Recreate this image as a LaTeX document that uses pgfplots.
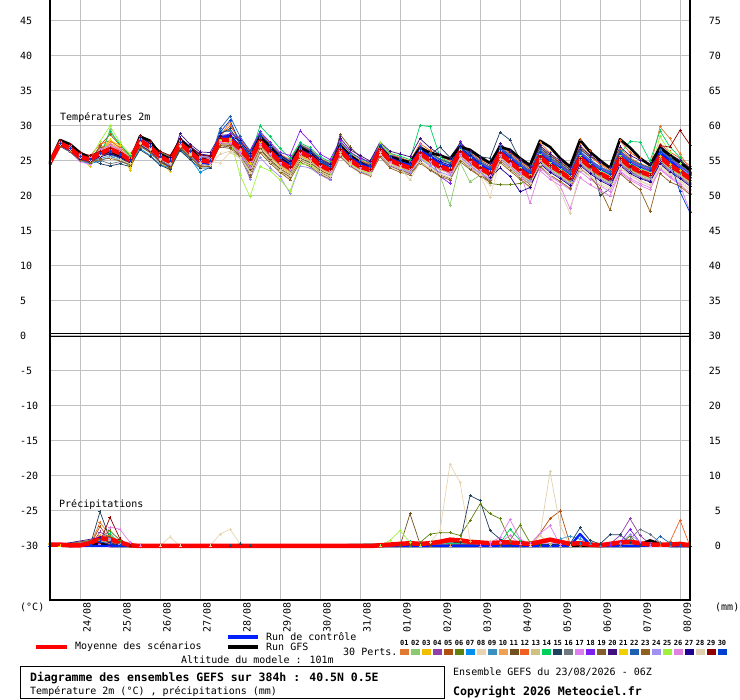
\documentclass[border=0pt]{standalone}
\usepackage{pgfplots}
\pgfplotsset{compat=1.18}
\usepackage{pgfplotstable}
\usepackage{fontspec}
\setmainfont{DejaVu Sans Mono}
\setmonofont{DejaVu Sans Mono}
\definecolor{c01}{HTML}{E07A2E}
\definecolor{c02}{HTML}{8CC870}
\definecolor{c03}{HTML}{F0C000}
\definecolor{c04}{HTML}{9040A8}
\definecolor{c05}{HTML}{B05010}
\definecolor{c06}{HTML}{608010}
\definecolor{c07}{HTML}{0090F0}
\definecolor{c08}{HTML}{E8D4B0}
\definecolor{c09}{HTML}{3C90C0}
\definecolor{c10}{HTML}{F0A050}
\definecolor{c11}{HTML}{705020}
\definecolor{c12}{HTML}{F06020}
\definecolor{c13}{HTML}{D0C080}
\definecolor{c14}{HTML}{00D060}
\definecolor{c15}{HTML}{204060}
\definecolor{c16}{HTML}{707880}
\definecolor{c17}{HTML}{E080F0}
\definecolor{c18}{HTML}{8020F0}
\definecolor{c19}{HTML}{806030}
\definecolor{c20}{HTML}{401080}
\definecolor{c21}{HTML}{F0D000}
\definecolor{c22}{HTML}{2060B0}
\definecolor{c23}{HTML}{906020}
\definecolor{c24}{HTML}{A090F0}
\definecolor{c25}{HTML}{A0F040}
\definecolor{c26}{HTML}{E080E0}
\definecolor{c27}{HTML}{200090}
\definecolor{c28}{HTML}{E0D0B0}
\definecolor{c29}{HTML}{900000}
\definecolor{c30}{HTML}{0040D0}
\definecolor{gridc}{HTML}{C0C0C0}
\definecolor{ctrlblue}{HTML}{0020FF}
\definecolor{meanred}{HTML}{FF0000}

\pgfplotstableread{
i m g c p01 p02 p03 p04 p05 p06 p07 p08 p09 p10 p11 p12 p13 p14 p15 p16 p17 p18 p19 p20 p21 p22 p23 p24 p25 p26 p27 p28 p29 p30
0 24.8 24.9 24.8 24.6 24.9 24.7 25.0 24.8 24.5 24.9 25.1 24.7 24.6 24.9 24.8 25.0 24.6 24.7 24.9 24.8 24.5 25.0 24.7 24.8 24.6 24.9 25.1 24.7 24.8 24.6 24.9 24.8 24.7
1 27.5 28.0 27.3 27.6 27.2 27.4 27.8 27.5 27.3 27.1 27.7 27.4 27.6 27.2 27.9 27.3 27.5 27.8 27.4 27.2 27.6 27.5 27.3 27.7 27.4 27.1 27.6 27.5 27.8 27.3 27.4 27.9 27.5
2 26.8 27.4 26.6 26.9 26.5 26.8 27.2 26.6 26.9 26.3 27.0 26.7 26.8 26.4 27.3 26.6 26.9 27.1 26.7 26.4 26.9 26.8 26.5 27.0 26.7 26.3 27.0 26.8 27.2 26.6 26.7 27.4 26.8
3 25.6 26.2 25.4 25.7 25.2 25.6 26.0 25.3 25.7 25.0 25.9 25.5 25.6 25.2 26.1 25.4 25.7 25.9 25.5 24.9 25.8 25.6 25.3 25.8 25.4 25.1 25.9 25.6 26.0 25.3 25.5 26.2 25.6
4 25.2 25.4 25.0 25.3 24.8 24.2 25.6 24.9 25.4 24.6 25.5 25.1 25.0 24.7 25.7 24.9 25.3 25.4 25.2 24.5 25.6 25.1 24.8 25.3 24.9 24.8 25.5 25.2 25.6 25.0 25.1 25.8 25.2
5 26.1 26.0 26.0 26.8 25.5 26.4 26.0 27.2 25.8 25.0 26.5 25.3 26.9 25.7 27.4 26.2 25.6 24.6 25.1 26.7 25.4 27.0 26.3 25.9 26.2 25.2 26.0 27.8 26.5 25.6 25.8 26.4 26.1
6 26.7 26.4 26.6 27.4 29.5 28.0 26.5 28.8 26.0 25.6 26.9 25.8 27.6 26.2 27.9 26.8 29.2 24.3 24.6 27.2 26.4 27.0 26.1 28.0 25.9 25.4 26.6 30.0 27.3 26.0 25.5 26.8 26.4
7 26.1 25.8 26.0 26.5 27.0 26.8 25.8 27.3 25.5 25.2 26.0 25.0 26.7 25.6 26.9 26.2 27.4 24.6 24.9 26.4 25.8 26.3 25.5 27.2 25.4 25.0 26.0 27.6 26.6 25.6 25.2 26.2 25.9
8 25.1 25.0 25.0 25.3 25.6 23.7 24.8 25.8 24.6 24.3 25.0 24.4 25.5 24.7 25.9 25.2 25.7 24.2 24.5 25.4 24.9 25.1 24.6 24.0 24.8 24.5 25.0 26.0 25.4 24.8 24.6 25.3 25.0
9 27.9 28.5 27.8 28.0 27.6 27.3 28.4 27.8 28.6 26.8 27.9 27.2 28.3 27.5 28.0 27.7 28.2 26.6 27.4 28.1 27.8 28.5 27.3 27.7 28.0 27.1 28.3 27.9 27.6 28.4 27.5 28.7 28.0
10 27.0 27.9 26.9 27.1 26.7 26.4 27.5 26.9 27.6 25.8 27.0 26.3 27.4 26.6 27.1 26.8 27.3 25.7 26.5 27.2 26.9 27.7 26.4 26.8 27.1 26.2 27.4 27.0 26.7 27.5 26.6 27.8 27.1
11 25.6 26.0 25.5 25.8 25.3 25.0 26.1 25.5 26.2 24.5 25.6 25.0 26.0 25.2 25.7 25.4 25.9 24.4 25.1 25.8 25.5 26.3 24.9 25.4 25.7 24.8 26.0 25.6 25.3 26.1 25.2 26.4 25.7
12 24.9 25.2 24.8 25.0 24.7 23.5 25.4 24.8 25.6 24.0 25.0 24.3 25.3 23.9 25.1 24.6 25.2 23.8 24.4 25.0 24.9 25.7 24.2 24.6 25.1 24.1 25.4 24.9 24.5 25.5 24.6 25.8 25.0
13 27.5 28.0 27.4 27.6 27.3 27.0 27.9 27.4 28.0 26.6 27.5 27.2 27.8 26.8 27.6 27.1 27.7 26.5 27.0 27.8 28.2 27.9 28.9 27.3 27.6 26.9 28.0 27.5 27.2 28.3 27.1 28.1 27.6
14 26.3 26.8 26.1 26.4 26.1 25.8 26.8 26.2 26.9 25.4 26.3 25.9 26.6 25.5 26.4 25.8 26.5 25.2 25.7 26.7 27.0 26.8 27.4 26.0 26.5 25.6 26.9 26.3 26.0 27.1 25.9 27.0 26.4
15 25.1 25.4 24.8 25.2 24.9 24.7 25.6 25.0 25.8 23.4 25.1 24.4 25.4 24.3 25.2 24.6 25.3 24.0 24.5 25.5 25.9 25.7 26.3 24.8 25.3 24.2 25.7 25.1 24.8 26.0 24.6 25.9 25.2
16 24.9 25.0 24.6 25.0 24.6 24.5 25.4 24.8 25.8 24.1 24.9 24.5 25.3 24.2 25.1 24.6 25.2 24.0 24.4 25.3 25.6 25.5 26.2 24.7 25.1 24.3 25.5 24.9 24.6 25.8 24.4 25.7 25.0
17 28.0 28.2 28.2 28.5 28.8 27.6 28.2 29.0 28.0 28.3 24.7 29.3 27.8 27.2 28.6 27.4 28.1 28.9 27.5 27.9 28.4 27.0 28.7 27.7 29.6 27.3 28.2 28.0 27.6 28.5 26.0 28.3 29.1
18 28.0 28.4 28.6 30.6 28.0 27.5 28.4 29.4 27.6 28.8 26.2 29.2 27.9 27.0 30.0 27.3 28.3 29.6 27.4 27.8 28.9 26.8 28.7 27.7 31.4 27.2 28.1 28.2 27.5 28.6 26.4 28.5 30.8
19 26.8 26.9 27.0 27.3 25.8 26.2 27.4 27.8 26.6 27.0 25.4 27.6 26.5 25.9 28.1 26.0 27.2 27.5 26.3 26.7 28.3 25.6 27.1 26.4 28.5 25.7 26.2 23.0 26.0 27.9 25.5 27.0 27.6
20 25.1 25.3 25.0 25.6 23.6 24.3 25.9 26.2 24.8 25.4 23.3 26.0 24.5 23.8 26.3 24.0 25.5 25.7 24.2 24.9 26.5 23.0 25.3 24.6 26.4 22.6 22.4 19.9 24.1 26.1 23.4 25.2 25.8
21 27.8 28.4 27.9 28.2 26.6 27.0 28.4 28.8 27.5 28.3 26.4 28.6 27.2 26.8 29.0 27.1 30.0 28.5 27.3 27.8 29.2 26.7 28.1 27.6 28.9 26.2 25.5 24.2 27.4 28.7 26.5 27.9 28.6
22 26.3 27.0 26.6 26.7 25.1 25.6 27.0 27.3 26.0 26.8 24.9 27.1 25.7 25.2 27.5 25.5 28.5 27.0 25.8 26.3 27.7 25.0 26.6 26.1 27.4 24.7 24.0 23.6 25.9 27.2 24.8 26.4 27.0
23 24.9 25.4 25.2 25.3 23.8 24.3 25.6 25.9 24.7 25.4 23.5 25.7 24.4 23.9 26.0 24.1 26.8 25.6 24.5 24.9 26.2 23.6 25.2 24.8 25.9 23.4 22.8 22.3 24.6 25.8 23.7 25.0 25.5
24 24.0 24.4 24.3 24.4 22.8 23.3 24.8 25.0 23.7 24.6 22.5 24.9 23.5 23.0 25.2 23.2 25.4 24.7 23.6 24.0 25.8 22.7 24.3 23.9 25.0 22.3 20.4 20.7 23.8 24.9 22.9 24.1 24.6
25 26.3 27.0 26.5 26.6 25.3 25.8 26.9 27.2 26.0 26.8 24.9 27.0 25.7 25.4 27.4 25.6 27.6 26.9 25.9 26.2 29.3 25.1 26.5 26.2 27.3 24.8 24.3 24.6 26.1 27.1 25.2 26.4 26.9
26 25.6 26.1 25.9 25.9 24.7 25.1 26.2 26.5 25.4 26.0 24.3 26.3 25.0 24.8 26.7 25.0 26.9 26.2 25.3 25.5 27.8 24.5 25.8 25.5 26.6 24.2 24.0 24.4 25.4 26.4 24.6 25.7 26.2
27 24.4 24.6 24.6 24.6 23.6 24.0 25.0 25.3 24.3 24.8 23.2 25.1 23.9 23.7 25.4 23.9 25.6 25.0 24.2 24.3 26.0 23.4 24.7 24.4 25.3 23.1 23.0 23.5 24.2 25.2 23.5 24.5 24.9
28 23.7 23.8 23.8 23.9 23.0 23.3 24.3 24.6 23.6 24.1 22.5 24.4 23.2 23.0 24.7 23.2 24.9 24.3 23.5 23.6 25.2 22.7 24.0 23.7 24.6 22.4 22.3 22.9 23.5 24.5 22.8 23.8 24.2
29 26.6 27.2 26.9 26.8 26.0 26.3 27.3 27.5 26.5 27.0 25.6 27.2 26.2 28.8 27.6 26.2 27.8 27.2 26.4 26.6 27.9 25.8 28.3 26.6 27.4 25.7 25.8 26.0 26.5 27.3 25.9 26.7 27.1
30 25.1 25.8 25.5 25.3 24.6 24.9 25.7 25.9 25.0 25.5 24.2 25.6 24.8 27.0 26.0 24.8 26.2 25.6 24.9 25.1 26.3 24.4 26.6 25.1 25.8 24.3 24.4 24.6 25.0 25.7 24.5 25.2 25.6
31 24.2 24.8 24.6 24.4 23.7 24.0 24.8 25.0 24.1 24.6 23.3 24.7 23.9 25.6 25.1 23.9 25.3 24.7 24.0 24.2 25.4 23.5 25.8 24.2 24.9 23.4 23.5 23.7 24.1 24.8 23.6 24.3 24.7
32 23.7 24.0 24.0 23.9 23.2 23.5 24.3 24.5 23.6 24.1 22.8 24.2 23.4 24.6 24.6 23.4 24.8 24.2 23.5 23.7 24.9 23.0 25.0 23.7 24.4 22.9 23.0 23.2 23.6 24.3 23.1 23.8 24.2
33 26.6 26.8 26.8 26.8 26.2 26.4 27.1 27.3 26.5 27.0 25.8 27.2 26.3 26.9 27.4 26.3 27.5 27.0 26.4 26.6 27.3 25.9 27.7 26.5 27.2 25.6 25.9 27.6 26.5 27.1 26.0 26.7 27.0
34 25.1 25.6 25.4 25.3 24.6 24.9 25.7 25.9 25.0 25.5 24.2 25.7 24.8 25.4 26.0 24.7 26.1 25.6 24.9 25.0 25.9 24.3 26.4 25.0 25.8 24.0 24.4 25.9 24.9 25.6 24.5 25.2 25.6
35 24.5 25.2 24.8 24.7 24.0 24.3 25.1 25.4 24.5 25.0 23.6 25.2 24.2 24.8 25.5 24.1 25.7 25.1 24.3 23.8 25.3 23.7 26.0 24.5 25.2 23.4 23.9 25.0 24.4 25.1 24.0 24.6 25.0
36 24.0 24.8 24.4 24.2 23.5 23.7 24.6 24.9 24.0 24.5 23.1 24.7 23.7 24.3 25.0 23.6 25.2 24.6 23.8 23.3 24.8 23.2 25.6 24.0 24.7 23.0 23.4 24.6 23.9 24.6 22.3 24.1 24.5
37 26.1 26.9 26.5 26.4 25.5 26.0 26.8 27.2 25.9 26.6 25.0 27.0 25.7 26.3 27.5 25.6 30.1 26.9 25.8 27.3 26.5 24.9 28.2 26.3 27.1 24.7 25.3 26.5 25.9 26.8 24.8 26.2 26.6
38 25.1 26.2 25.6 25.4 24.4 25.0 25.8 26.2 24.9 25.6 24.0 26.0 24.7 25.3 26.5 24.6 29.9 25.9 24.8 25.1 25.5 23.8 26.9 25.3 26.1 23.7 24.3 25.5 24.9 25.8 23.9 25.2 25.6
39 24.2 25.8 24.6 24.5 23.0 24.0 24.9 25.3 24.0 24.7 23.2 25.1 23.8 24.4 25.6 23.7 25.6 27.0 23.9 24.2 22.8 23.0 25.9 24.4 25.2 22.8 23.4 24.6 24.0 24.9 23.1 24.3 24.7
40 23.7 25.3 24.0 24.0 18.7 23.5 24.4 24.8 23.5 24.2 22.6 24.6 23.3 23.9 25.1 23.2 24.7 25.5 23.4 23.0 21.8 22.5 25.3 23.9 24.7 22.3 22.9 24.1 23.5 24.4 22.6 23.8 24.2
41 26.3 27.0 26.6 26.6 24.8 26.1 27.0 27.4 26.0 26.8 25.4 27.2 25.9 26.4 27.6 25.8 27.3 27.5 26.0 25.6 27.8 25.2 27.5 26.5 27.3 24.9 25.6 26.7 26.1 27.0 25.3 26.4 26.9
42 25.1 26.6 25.4 25.4 22.0 24.9 25.8 26.2 24.8 25.6 24.2 26.0 24.7 25.2 26.4 24.6 25.7 26.3 24.8 24.3 25.9 24.0 26.4 25.2 26.0 23.8 24.4 25.5 24.9 25.8 24.1 25.2 25.7
43 24.0 25.6 24.4 24.3 23.0 23.8 24.7 25.1 23.6 24.5 23.1 24.9 23.6 24.1 25.3 23.5 24.6 25.6 23.7 23.2 24.8 22.9 25.4 24.1 24.9 22.8 23.3 24.4 23.8 24.7 23.0 24.1 24.6
44 23.2 24.7 23.6 23.5 22.4 23.0 23.9 24.3 21.8 23.7 19.8 24.1 22.8 23.3 24.5 22.7 23.8 25.4 22.9 22.4 24.0 22.2 24.6 23.3 24.1 22.0 22.5 23.6 23.0 22.6 21.5 23.3 23.8
45 26.1 27.0 26.4 26.4 25.4 25.9 26.8 27.2 21.6 26.6 25.1 27.0 25.7 26.2 27.4 25.6 26.7 29.1 25.8 25.3 26.9 25.1 27.5 26.2 27.0 24.8 25.4 26.5 25.9 24.0 25.2 26.2 26.7
46 24.9 26.6 25.3 25.2 24.2 24.7 25.6 26.0 21.6 25.4 23.9 25.8 24.5 25.0 26.2 24.4 25.5 28.0 24.6 24.1 25.7 23.9 26.3 25.0 25.8 23.6 24.2 25.3 24.7 22.8 24.0 25.0 25.5
47 23.7 25.4 24.0 24.0 23.0 23.5 24.4 24.8 21.8 24.2 22.6 24.6 23.3 23.8 25.0 23.2 24.3 25.2 23.4 22.9 24.5 22.7 25.1 23.8 24.6 22.4 23.0 24.1 23.5 20.6 22.8 23.8 24.3
48 22.7 24.4 23.0 23.0 22.0 22.4 23.4 23.8 22.2 23.2 21.0 23.6 22.3 22.8 24.0 22.1 23.3 24.3 22.4 21.6 23.5 21.7 24.1 22.8 23.6 21.3 22.0 23.1 19.0 21.2 21.8 22.8 23.3
49 25.6 27.9 25.9 27.6 25.0 25.4 26.3 26.7 25.2 26.1 24.3 26.5 25.2 25.7 27.0 25.1 26.2 26.9 25.3 24.0 26.4 24.8 27.2 25.7 26.6 24.2 24.8 26.0 23.6 24.6 24.5 25.6 26.2
50 24.4 27.0 24.8 26.2 23.8 24.2 25.1 25.5 24.0 24.9 23.0 25.3 24.0 24.5 25.8 23.9 25.0 25.7 24.1 22.8 25.2 23.6 26.0 24.5 25.4 23.0 23.6 24.8 22.4 23.4 22.9 24.4 25.0
51 23.5 25.4 23.6 24.6 22.9 23.3 24.2 24.6 23.1 24.0 22.1 24.4 23.1 23.6 24.9 23.0 24.1 24.8 23.2 21.9 24.3 22.7 25.1 23.6 24.5 22.1 22.7 23.9 21.5 22.5 20.8 23.5 24.1
52 22.5 24.2 22.6 23.4 21.9 22.3 23.2 23.6 22.1 23.0 21.1 23.4 22.1 22.6 23.9 22.0 23.1 23.8 22.2 20.9 23.3 21.7 24.1 22.6 23.5 21.1 21.7 22.9 18.2 21.5 17.5 22.5 23.1
53 25.4 28.0 25.8 27.3 24.8 25.2 26.1 28.0 25.0 25.9 24.1 26.3 25.0 25.5 26.8 24.9 26.0 26.7 25.1 23.5 26.2 24.6 27.0 25.5 26.4 23.9 24.6 25.8 22.6 24.4 23.8 25.4 26.0
54 24.2 26.3 24.6 25.8 23.6 24.0 24.9 26.5 23.8 24.7 22.9 25.1 23.8 24.3 25.6 23.7 24.8 25.5 23.9 22.4 25.0 23.4 25.8 24.3 25.2 22.8 23.4 24.6 21.6 23.2 22.8 24.2 24.8
55 23.2 25.1 23.3 24.5 22.6 23.0 23.9 24.8 22.8 23.7 21.9 24.1 22.8 23.3 24.6 22.7 23.8 20.1 22.9 21.5 24.0 22.4 24.8 23.3 24.2 21.0 22.4 23.6 20.8 22.2 21.6 23.2 23.8
56 22.5 24.0 22.2 23.6 21.9 22.3 23.2 23.8 22.1 23.0 21.2 23.4 22.1 22.6 23.9 22.0 23.1 21.0 22.2 20.6 23.3 21.7 24.1 22.6 23.5 18.0 21.7 22.9 20.0 21.5 21.0 22.5 23.1
57 25.4 28.1 25.6 26.8 24.8 25.2 26.1 26.5 25.0 25.9 24.2 26.3 25.0 25.5 27.9 24.9 26.0 24.6 25.1 23.6 26.2 24.6 27.0 25.5 26.4 23.2 24.6 25.8 23.4 24.4 23.9 25.4 26.0
58 24.2 26.9 24.5 25.5 23.6 24.0 24.9 25.3 23.8 24.7 23.0 25.1 23.8 24.3 26.2 23.7 27.8 23.5 23.9 22.5 25.0 23.4 25.8 24.3 25.2 22.0 23.4 24.6 22.3 23.2 22.9 24.2 24.8
59 23.5 25.4 23.6 24.6 22.9 23.3 24.2 24.6 23.1 24.0 22.2 24.4 23.1 23.6 25.3 23.0 27.7 22.7 23.2 21.8 24.3 22.7 25.1 23.6 24.5 20.9 22.7 23.9 21.5 22.5 22.1 23.5 24.1
60 23.0 24.4 22.8 24.0 22.4 22.8 23.7 24.1 22.6 23.5 21.6 23.9 22.6 23.1 24.6 22.5 25.0 22.1 22.7 21.2 23.8 22.2 24.6 23.1 24.0 17.8 22.2 23.4 20.9 22.0 21.5 23.0 23.6
61 25.6 26.9 26.2 29.9 25.0 25.4 26.3 26.7 25.2 26.1 24.4 26.5 25.2 25.7 27.4 25.1 29.3 24.9 25.3 23.8 26.4 24.8 27.2 25.7 26.6 23.2 24.8 28.5 23.9 24.6 24.1 27.2 26.2
62 24.4 25.8 25.0 28.2 23.8 24.2 25.1 25.5 24.0 24.9 23.2 25.3 24.0 24.5 26.3 23.9 27.0 23.6 24.1 22.6 25.2 23.6 26.0 24.5 25.4 22.0 23.6 26.2 22.8 23.4 23.0 27.0 25.0
63 23.5 24.8 23.8 26.0 22.9 23.3 24.2 24.6 23.1 24.0 22.3 24.4 23.1 23.6 25.4 23.0 25.5 22.7 23.2 21.6 24.3 22.7 25.1 23.6 24.5 21.4 22.7 24.6 21.7 22.5 22.0 29.4 20.6
64 22.5 23.7 22.6 23.8 21.8 22.2 23.1 23.5 22.0 22.9 21.0 23.3 22.0 22.6 24.3 21.9 23.4 21.6 22.2 17.8 23.2 21.6 24.0 22.5 23.4 20.2 21.6 23.5 20.4 21.4 20.8 27.3 17.6
}\temps

\pgfplotsset{
  pert/.style={line width=0.7pt, mark=+, mark size=1.5pt, mark options={solid, line width=0.6pt}},
}

\begin{document}
\begin{tikzpicture}[x=1pt,y=1pt]
\path[use as bounding box] (0,0) rectangle (740,700);

% ---------- temperature axis (left scale) ----------
\begin{axis}[
  at={(50pt,100pt)}, anchor=south west,
  width=640pt, height=600pt, scale only axis,
  xmin=0, xmax=64, ymin=-37.714, ymax=48,
  axis line style={draw=none},
  major tick length=0pt,
  xtick={3,7,...,63}, xticklabels={},
  ytick={-30,-25,...,45},
  xmajorgrids, ymajorgrids,
  grid style={gridc, line width=1pt},
  /pgf/number format/assume math mode=true,
  yticklabel style={anchor=west, inner sep=0pt, xshift=-30pt, font=\fontsize{10}{12}\selectfont},
  clip=true,
]
\addplot[c01, pert] table[x=i,y=p01]{\temps};
\addplot[c02, pert] table[x=i,y=p02]{\temps};
\addplot[c03, pert] table[x=i,y=p03]{\temps};
\addplot[c04, pert] table[x=i,y=p04]{\temps};
\addplot[c05, pert] table[x=i,y=p05]{\temps};
\addplot[c06, pert] table[x=i,y=p06]{\temps};
\addplot[c07, pert] table[x=i,y=p07]{\temps};
\addplot[c08, pert] table[x=i,y=p08]{\temps};
\addplot[c09, pert] table[x=i,y=p09]{\temps};
\addplot[c10, pert] table[x=i,y=p10]{\temps};
\addplot[c11, pert] table[x=i,y=p11]{\temps};
\addplot[c12, pert] table[x=i,y=p12]{\temps};
\addplot[c13, pert] table[x=i,y=p13]{\temps};
\addplot[c14, pert] table[x=i,y=p14]{\temps};
\addplot[c15, pert] table[x=i,y=p15]{\temps};
\addplot[c16, pert] table[x=i,y=p16]{\temps};
\addplot[c17, pert] table[x=i,y=p17]{\temps};
\addplot[c18, pert] table[x=i,y=p18]{\temps};
\addplot[c19, pert] table[x=i,y=p19]{\temps};
\addplot[c20, pert] table[x=i,y=p20]{\temps};
\addplot[c21, pert] table[x=i,y=p21]{\temps};
\addplot[c22, pert] table[x=i,y=p22]{\temps};
\addplot[c23, pert] table[x=i,y=p23]{\temps};
\addplot[c24, pert] table[x=i,y=p24]{\temps};
\addplot[c25, pert] table[x=i,y=p25]{\temps};
\addplot[c26, pert] table[x=i,y=p26]{\temps};
\addplot[c27, pert] table[x=i,y=p27]{\temps};
\addplot[c28, pert] table[x=i,y=p28]{\temps};
\addplot[c29, pert] table[x=i,y=p29]{\temps};
\addplot[c30, pert] table[x=i,y=p30]{\temps};
\addplot[black, line width=2.6pt, line join=round] table[x=i,y=g]{\temps};
\addplot[ctrlblue, line width=2.4pt, line join=round] table[x=i,y=c]{\temps};
\addplot[meanred, line width=4.5pt, line join=round] table[x=i,y=m]{\temps};
\end{axis}

% ---------- precipitation axis (right scale) ----------
\begin{axis}[
  at={(50pt,100pt)}, anchor=south west,
  width=640pt, height=600pt, scale only axis,
  xmin=0, xmax=64, ymin=-7.714, ymax=78,
  axis line style={draw=none},
  major tick length=0pt,
  xtick=\empty,
  ytick={0,5,...,75},
  yticklabel pos=right,
  /pgf/number format/assume math mode=true,
  yticklabel style={anchor=east, inner sep=0pt, xshift=31pt, font=\fontsize{10}{12}\selectfont},
  clip=true,
]
\addplot[c01, pert] coordinates {(0,0)(4,0)(5,3.4)(6,1.5)(7,0)(64,0)};
\addplot[c02, pert] coordinates {(0,0)(5,0.4)(6,0.8)(7,0)(64,0)};
\addplot[c03, pert] coordinates {(0,0.3)(1,0)(5,0.6)(6,1.2)(7,0.2)(8,0)(64,0)};
\addplot[c04, pert] coordinates {(0,0)(4,0)(5,2.0)(6,1.2)(7,0.2)(8,0)(56,0.3)(57,1.5)(58,3.9)(59,1.5)(60,0.3)(61,0)(64,0)};
\addplot[c05, pert] coordinates {(0,0)(4,0)(5,2.8)(6,0.8)(7,0)(48,0)(49,1.8)(50,3.9)(51,5.0)(52,0.3)(53,0)(64,0)};
\addplot[c06, pert] coordinates {(0,0)(5,1.0)(6,2.2)(7,0.8)(8,0)(36,0)(37,0.5)(38,1.7)(39,1.9)(40,1.9)(41,1.5)(42,3.6)(43,6.0)(44,4.6)(45,3.9)(46,0.8)(47,3.0)(48,0.5)(49,0)(57,0.3)(58,1.4)(59,0)(64,0)};
\addplot[c07, pert] coordinates {(0,0)(5,0.5)(6,0.3)(7,0)(35,0)(36,0.6)(37,0)(53,0.3)(54,0.5)(55,0.2)(56,0)(64,0)};
\addplot[c08, pert] coordinates {(0,0)(11,0)(12,1.3)(13,0)(16,0)(17,1.7)(18,2.4)(19,0.3)(20,0)(37,0)(38,0.5)(39,2.2)(40,11.7)(41,9.1)(42,0.9)(43,0)(64,0)};
\addplot[c09, pert] coordinates {(0,0)(50,0)(51,1.0)(52,1.4)(53,1.0)(54,0.3)(55,0)(64,0)};
\addplot[c10, pert] coordinates {(0,0)(4,0)(5,1.5)(6,1.1)(7,0)(40,0)(41,0.8)(42,0.6)(43,0)(64,0)};
\addplot[c11, pert] coordinates {(0,0)(35,0)(36,4.6)(37,0.3)(38,0)(64,0)};
\addplot[c12, pert] coordinates {(0,0)(5,0.8)(6,0.4)(7,0)(61,0)(62,0.6)(63,3.7)(64,0)};
\addplot[c13, pert] coordinates {(0,0)(6,0.8)(7,0)(43,0)(44,0.6)(45,0)(48,0.2)(49,1.5)(50,0.2)(51,0)(64,0)};
\addplot[c14, pert] coordinates {(0,0)(5,0.6)(6,1.8)(7,0.3)(8,0)(45,0.4)(46,2.4)(47,0.8)(48,0)(64,0)};
\addplot[c15, pert] coordinates {(0,0)(4,0)(5,4.9)(6,1.0)(7,0)(18,0)(19,0.3)(20,0)(41,0.5)(42,7.2)(43,6.5)(44,2.2)(45,1.0)(46,0)(52,0.3)(53,2.6)(54,0.8)(55,0.3)(56,1.6)(57,1.6)(58,0.5)(59,0)(64,0)};
\addplot[c16, pert] coordinates {(0,0)(57,0)(58,1.0)(59,2.4)(60,1.7)(61,0.5)(62,0)(64,0)};
\addplot[c17, pert] coordinates {(0,0)(43,0)(44,0.5)(45,1.2)(46,3.8)(47,1.0)(48,0.3)(49,1.8)(50,2.9)(51,0.2)(52,0)(64,0)};
\addplot[c18, pert] coordinates {(0,0)(5,0.4)(6,0)(56,0)(57,0.5)(58,2.4)(59,0.5)(60,0)(64,0)};
\addplot[c19, pert] coordinates {(0,0)(5,0.9)(6,0.6)(7,0)(45,0)(46,0.6)(47,0)(64,0)};
\addplot[c20, pert] coordinates {(0,0)(5,1.2)(6,0.5)(7,0)(64,0)};
\addplot[c21, pert] coordinates {(0,0.4)(1,0)(6,0.3)(7,0)(64,0)};
\addplot[c22, pert] coordinates {(0,0)(60,0)(61,1.4)(62,0.4)(63,0)(64,0)};
\addplot[c23, pert] coordinates {(0,0)(5,0.7)(6,1.4)(7,0.4)(8,0)(64,0)};
\addplot[c24, pert] coordinates {(0,0)(6,0.9)(7,0.2)(8,0)(57,0.4)(58,1.6)(59,0.6)(60,0)(64,0)};
\addplot[c25, pert] coordinates {(0,0)(33,0)(34,0.8)(35,2.2)(36,0.5)(37,0)(64,0)};
\addplot[c26, pert] coordinates {(0,0)(5,0.3)(6,2.7)(7,2.4)(8,0.5)(9,0)(44,0)(45,0.5)(46,1.5)(47,0.3)(48,0)(64,0)};
\addplot[c27, pert] coordinates {(0,0)(5,0.5)(6,0.2)(7,0)(64,0)};
\addplot[c28, pert] coordinates {(0,0)(48,0)(49,1.5)(50,10.6)(51,3.0)(52,0)(64,0)};
\addplot[c29, pert] coordinates {(0,0)(5,0.5)(6,4.1)(7,1.0)(8,0)(64,0)};
\addplot[c30, pert] coordinates {(0,0)(4,0)(5,0.6)(6,0.3)(7,0)(64,0)};
\addplot[black, line width=2.6pt, line join=round] coordinates {(0,0.1)(2,0)(4,0.2)(5,0.3)(6,0)(59,0)(59,0.2)(60,0.8)(61,0.3)(62,0)(64,0)};
\addplot[ctrlblue, line width=2.4pt, line join=round] coordinates {(0,0.3)(1,0.2)(2,0)(52,0)(53,1.7)(54,0.2)(55,0)(64,0)};
\addplot[meanred, line width=4.5pt, line join=round] coordinates {(0,0.2)(1,0.2)(2,0.1)(3,0.1)(4,0.4)(5,1.1)(6,1.0)(7,0.5)(8,0.1)(9,0)(32,0)(33,0.1)(34,0.2)(35,0.3)(36,0.4)(37,0.3)(38,0.4)(39,0.6)(40,0.9)(41,0.8)(42,0.6)(43,0.5)(44,0.4)(45,0.5)(46,0.5)(47,0.4)(48,0.3)(49,0.6)(50,0.9)(51,0.6)(52,0.3)(53,0.4)(54,0.2)(55,0.1)(56,0.3)(57,0.5)(58,0.6)(59,0.4)(60,0.2)(61,0.2)(62,0.2)(63,0.3)(64,0.1)};
\end{axis}

% ---------- frame and separator ----------
\draw[black, line width=1.3pt] (50,700) -- (50,100) -- (690,100) -- (690,700);
\draw[black, line width=1.3pt] (50,363.5) -- (690,363.5);
\draw[black, line width=1.3pt] (50,366.5) -- (690,366.5);

% ---------- panel titles ----------
\node[anchor=west, inner sep=0pt] at (60,582) {Températures 2m};
\node[anchor=west, inner sep=0pt] at (59,195) {Précipitations};

% ---------- units ----------
\node[anchor=west, inner sep=0pt] at (20,93) {(°C)};
\node[anchor=west, inner sep=0pt] at (715,93) {(mm)};

% ---------- date labels ----------
\node[rotate=90, anchor=east, inner sep=0pt] at (87.5,98) {24/08};
\node[rotate=90, anchor=east, inner sep=0pt] at (127.5,98) {25/08};
\node[rotate=90, anchor=east, inner sep=0pt] at (167.5,98) {26/08};
\node[rotate=90, anchor=east, inner sep=0pt] at (207.5,98) {27/08};
\node[rotate=90, anchor=east, inner sep=0pt] at (247.5,98) {28/08};
\node[rotate=90, anchor=east, inner sep=0pt] at (287.5,98) {29/08};
\node[rotate=90, anchor=east, inner sep=0pt] at (327.5,98) {30/08};
\node[rotate=90, anchor=east, inner sep=0pt] at (367.5,98) {31/08};
\node[rotate=90, anchor=east, inner sep=0pt] at (407.5,98) {01/09};
\node[rotate=90, anchor=east, inner sep=0pt] at (447.5,98) {02/09};
\node[rotate=90, anchor=east, inner sep=0pt] at (487.5,98) {03/09};
\node[rotate=90, anchor=east, inner sep=0pt] at (527.5,98) {04/09};
\node[rotate=90, anchor=east, inner sep=0pt] at (567.5,98) {05/09};
\node[rotate=90, anchor=east, inner sep=0pt] at (607.5,98) {06/09};
\node[rotate=90, anchor=east, inner sep=0pt] at (647.5,98) {07/09};
\node[rotate=90, anchor=east, inner sep=0pt] at (687.5,98) {08/09};

% ---------- legend ----------
\draw[meanred, line width=4pt] (36,53) -- (67,53);
\node[anchor=west, inner sep=0pt] at (75,53) {Moyenne des scénarios};
\draw[ctrlblue, line width=4pt] (228,63) -- (258,63);
\node[anchor=west, inner sep=0pt] at (266,63) {Run de contrôle};
\draw[black, line width=4pt] (228,53) -- (258,53);
\node[anchor=west, inner sep=0pt] at (266,53) {Run GFS};
\node[anchor=west, inner sep=0pt] at (343,48) {30 Perts.};
\node[anchor=west, inner sep=0pt] at (181,40) {Altitude du modele : 101m};
\foreach \k [count=\n from 0] in {01,02,03,04,05,06,07,08,09,10,11,12,13,14,15,16,17,18,19,20,21,22,23,24,25,26,27,28,29,30} {
  \node[anchor=west, inner sep=0pt, font=\fontsize{7}{8}\selectfont\bfseries] at ({400+\n*10.95},57) {\k};
  \fill[fill=c\k] ({400+\n*10.95},44.5) rectangle ++(9,6);
}

% ---------- bottom box ----------
\draw[black, line width=1pt] (20,1) rectangle (444,33);
\node[anchor=west, inner sep=0pt, font=\fontsize{11.5}{13}\selectfont\bfseries] at (30,22) {Diagramme des ensembles GEFS sur 384h : 40.5N 0.5E};
\node[anchor=west, inner sep=0pt] at (30,8) {Température 2m (°C) , précipitations (mm)};
\node[anchor=west, inner sep=0pt] at (453,28) {Ensemble GEFS du 23/08/2026 - 06Z};
\node[anchor=west, inner sep=0pt, font=\fontsize{11.6}{13}\selectfont\bfseries] at (453,8) {Copyright 2026 Meteociel.fr};
\end{tikzpicture}
\end{document}
